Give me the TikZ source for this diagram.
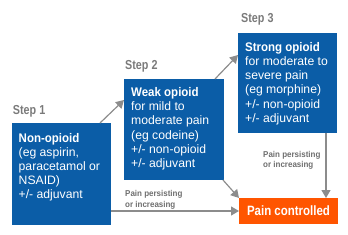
\documentclass[tikz,border=0pt]{standalone}
\usepackage{fontspec}
\setmainfont{Liberation Sans}
\newfontfamily\stepfont{Liberation Sans Bold}[FakeStretch=0.83]
\newfontfamily\titlefont{Liberation Sans Bold}[FakeStretch=0.92]
\newfontfamily\pcfont{Liberation Sans Bold}[FakeStretch=0.85]
\newfontfamily\labfont{Liberation Sans Bold}[FakeStretch=0.94]
\usetikzlibrary{arrows.meta}
\definecolor{boxblue}{HTML}{0B5DA7}
\definecolor{pcorange}{HTML}{FF5500}
\definecolor{arrgray}{HTML}{8C8C8C}
\definecolor{stepgray}{HTML}{7A7A7A}
\definecolor{labgray}{HTML}{6E6E6E}
\begin{document}
\begin{tikzpicture}[x=1pt,y=-1pt,
  box/.style={fill=boxblue, draw=none, anchor=north west, inner sep=0pt, outer sep=0pt},
  boxtext/.style={anchor=base west, inner sep=0pt, align=left, text=white, font=\fontsize{12.2}{14.2}\selectfont},
  steplab/.style={anchor=base west, inner sep=0pt, text=stepgray, font=\stepfont\fontsize{13}{15}\selectfont},
  arr/.style={draw=arrgray, line width=1.2pt, -{Triangle[length=8pt,width=9pt]}},
  lab/.style={anchor=base west, inner sep=0pt, align=left, text=labgray, font=\labfont\fontsize{8.5}{10.5}\selectfont}]
\useasboundingbox (0,0) rectangle (348,235);
% boxes
\node[box, minimum width=99pt, minimum height=102pt] (b1) at (12,123) {};
\node[box, minimum width=100pt, minimum height=101pt] (b2) at (124,79) {};
\node[box, minimum width=99pt, minimum height=100pt] (b3) at (238,33) {};
\node[box, fill=pcorange, minimum width=99pt, minimum height=26pt] (pc) at (239,198) {};
\node[text=white, inner sep=0pt, font=\pcfont\fontsize{13.5}{15}\selectfont] (pct) at (pc.center) {Pain controlled};
% texts (base anchor = baseline of last line)
\node[boxtext] (t1) at ([xshift=6.5pt,yshift=-75.8pt]b1.north west)
  {{\titlefont\fontsize{12.5}{14.2}\selectfont Non-opioid}\\(eg aspirin,\\paracetamol or\\NSAID)\\+/- adjuvant};
\node[boxtext] (t2) at ([xshift=7pt,yshift=-88.5pt]b2.north west)
  {{\titlefont\fontsize{12.5}{14.2}\selectfont Weak opioid}\\for mild to\\moderate pain\\(eg codeine)\\+/- non-opioid\\+/- adjuvant};
\node[boxtext] (t3) at ([xshift=7pt,yshift=-89.3pt]b3.north west)
  {{\titlefont\fontsize{12.5}{14.2}\selectfont Strong opioid}\\for moderate to\\severe pain\\(eg morphine)\\+/- non-opioid\\+/- adjuvant};
% step labels
\node[steplab] (s1) at ([xshift=0.7pt,yshift=8.7pt]b1.north west) {Step 1};
\node[steplab] (s2) at ([xshift=1pt,yshift=9.7pt]b2.north west) {Step 2};
\node[steplab] (s3) at ([xshift=3pt,yshift=10.3pt]b3.north west) {Step 3};
% arrows
\draw[arr] ([xshift=-11pt]b1.north east) -- ([yshift=-21pt]b2.north west);
\draw[arr] ([xshift=-9pt]b2.north east) -- ([yshift=-22pt]b3.north west);
\draw[arr] ([xshift=-1pt]b2.south east) -- (pc.north west);
\draw[arr] (b1.east |- pc.west) -- (pc.west);
\draw[arr] ([xshift=-11pt]b3.south east) -- ([xshift=-11pt]b3.south east |- pc.north);
% labels
\node[lab] (l1) at (125,207.3) {Pain persisting\\or increasing};
\node[lab] (l2) at (263,167.7) {Pain persisting\\or increasing};
\end{tikzpicture}
\end{document}
